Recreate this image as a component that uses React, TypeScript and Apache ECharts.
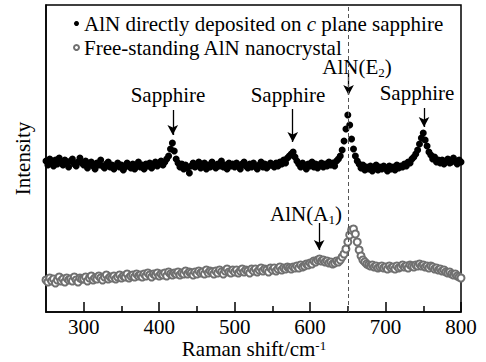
import React, { useEffect, useRef } from "react";
import * as echarts from "echarts";

// Raman shift sampling (cm^-1), 250 → 800 every 2.5
const shift: number[] = [];
for (let i = 0; i <= 220; i++) shift.push(250 + i * 2.5);

const upperName = "AlN directly deposited on c plane sapphire";
const lowerName = "Free-standing AlN nanocrystal";

// AlN on c-plane sapphire (arbitrary intensity)
const upperValues = [
  151, 147, 153, 149, 146, 152, 148, 154, 150, 147,
  152, 149, 145, 151, 153, 148, 146, 150, 154, 149,
  147, 151, 144, 148, 150, 146, 143, 149, 147, 152,
  146, 144, 148, 150, 145, 147, 143, 146, 149, 145,
  147, 142, 145, 149, 146, 144, 148, 143, 146, 150,
  145, 147, 143, 148, 146, 149, 144, 147, 150, 146,
  148, 151, 147, 150, 153, 156, 163, 169, 161, 153,
  149, 145, 148, 143, 147, 144, 139, 146, 149, 145,
  147, 150, 144, 146, 149, 143, 147, 145, 150, 146,
  144, 148, 146, 151, 145, 147, 143, 149, 146, 148,
  145, 149, 147, 143, 148, 150, 146, 144, 148, 145,
  149, 146, 143, 147, 150, 145, 148, 144, 146, 149,
  147, 145, 149, 146, 150, 148, 152, 149, 154, 156,
  158, 160, 155, 151, 148, 145, 149, 146, 143, 148,
  146, 150, 145, 148, 144, 147, 149, 145, 148, 146,
  150, 147, 149, 146, 151, 153, 156, 162, 171, 183,
  197, 187, 173, 163, 156, 151, 148, 144, 147, 142,
  145, 143, 146, 141, 144, 147, 142, 145, 143, 146,
  144, 141, 146, 143, 145, 142, 147, 144, 146, 145,
  148, 146, 150, 149, 153, 155, 158, 162, 168, 174,
  179, 172, 166, 160, 157, 153, 155, 150, 152, 149,
  152, 148, 151, 153, 149, 150, 154, 151, 148, 152, 150,
];

// Free-standing AlN nanocrystal
const lowerValues = [
  32, 30, 34, 31, 33, 29, 32, 35, 31, 33,
  30, 34, 32, 33, 31, 35, 32, 30, 34, 33,
  33, 35, 31, 34, 36, 32, 34, 33, 36, 34,
  32, 35, 37, 33, 35, 34, 36, 33, 35, 37,
  34, 36, 35, 38, 34, 36, 37, 35, 38, 36,
  37, 35, 38, 36, 39, 37, 35, 38, 37, 39,
  36, 38, 37, 39, 36, 40, 38, 37, 39, 38,
  40, 37, 39, 38, 41, 38, 40, 39, 37, 40,
  38, 41, 39, 40, 38, 42, 39, 41, 40, 38,
  41, 39, 42, 40, 38, 41, 43, 40, 39, 42,
  40, 42, 39, 41, 43, 40, 42, 41, 39, 43,
  41, 43, 40, 42, 44, 41, 43, 42, 40, 44,
  42, 44, 41, 43, 45, 42, 44, 43, 45, 44,
  43, 45, 44, 46, 44, 47, 45, 46, 48, 47,
  49, 48, 51, 50, 52, 53, 51, 52, 50, 51,
  49, 50, 48, 49, 51, 50, 52, 55, 58, 63,
  70, 77, 82, 83, 78, 70, 62, 56, 52, 50,
  48, 47, 46, 47, 45, 46, 44, 45, 46, 44,
  45, 43, 46, 44, 45, 43, 46, 44, 45, 47,
  45, 46, 44, 47, 46, 45, 47, 46, 48, 46,
  47, 45, 46, 44, 46, 45, 43, 44, 42, 43,
  41, 42, 40, 39, 40, 38, 37, 38, 36, 35, 34,
];

const majorTicks = [300, 400, 500, 600, 700, 800];
const minorTicks = [350, 450, 550, 650, 750];
const e2Position = 650;

// arrows: [x, yStart, yEnd]
const arrows = [
  [418, 202, 177],
  [577, 203, 170],
  [751, 204, 185],
  [651, 239, 217],
  [612, 89, 62],
];

const FONT = "Liberation Serif";
const FS = 21;

export default function App() {
  const ref = useRef<HTMLDivElement>(null);
  useEffect(() => {
    if (!ref.current) return;
    const chart = echarts.init(ref.current, null, { renderer: "svg" });
    const rich = {
      sub: { fontSize: 13, lineHeight: 13, fontFamily: FONT, color: "#000", padding: [11, 0, 0, 0] },
      sup: { fontSize: 13, lineHeight: 13, fontFamily: FONT, color: "#000", padding: [0, 0, 8, 0] },
      i: { fontSize: FS, lineHeight: 21, fontFamily: FONT, fontStyle: "italic", color: "#000" },
      n: { fontSize: FS, lineHeight: 21, fontFamily: FONT, color: "#000" },
    };
    const plain = (text: string, x: number, y: number) => ({
      type: "text",
      x,
      y,
      style: {
        text,
        fontSize: FS,
        fontFamily: FONT,
        fill: "#000",
        align: "center",
        verticalAlign: "middle",
      },
    });
    chart.setOption({
      animation: false,
      backgroundColor: "#fff",
      textStyle: { fontFamily: FONT },
      grid: {
        left: 46,
        right: 25,
        top: 5,
        bottom: 50,
        outerBoundsMode: "none",
        containLabel: false,
        show: true,
        borderColor: "#000",
        borderWidth: 1.5,
      },
      legend: {
        orient: "vertical",
        left: 68,
        top: 8,
        itemGap: 3,
        itemWidth: 5,
        itemHeight: 5,
        selectedMode: false,
        data: [upperName, lowerName],
        formatter: (name: string) =>
          name === upperName
            ? "{n|AlN directly deposited on }{i|c}{n| plane sapphire}"
            : "{n|" + name + "}",
        textStyle: { fontSize: FS, fontFamily: FONT, color: "#000", lineHeight: 21, rich },
      },
      xAxis: [
        {
          type: "value",
          min: 250,
          max: 800,
          position: "bottom",
          axisLine: { show: true, lineStyle: { color: "#000", width: 1.5 } },
          axisTick: {
            show: true,
            inside: true,
            length: 10,
            customValues: majorTicks,
            lineStyle: { color: "#000", width: 1.5 },
          },
          axisLabel: {
            customValues: majorTicks,
            fontSize: FS,
            fontFamily: FONT,
            lineHeight: 20,
            color: "#000",
            margin: 5,
          },
          splitLine: { show: false },
        },
        {
          type: "value",
          min: 250,
          max: 800,
          position: "bottom",
          axisLine: { show: false },
          axisTick: {
            show: true,
            inside: true,
            length: 6,
            customValues: minorTicks,
            lineStyle: { color: "#000", width: 1.5 },
          },
          axisLabel: { show: false },
          splitLine: { show: false },
        },
      ],
      yAxis: {
        type: "value",
        min: 0,
        max: 307,
        name: "Intensity",
        nameLocation: "middle",
        nameGap: 13,
        nameTextStyle: { fontSize: FS, fontFamily: FONT, color: "#000" },
        axisLine: { show: true, lineStyle: { color: "#000", width: 1.5 } },
        axisTick: { show: false },
        axisLabel: { show: false },
        splitLine: { show: false },
      },
      series: [
        {
          name: upperName,
          type: "scatter",
          symbol: "circle",
          symbolSize: 7,
          itemStyle: { color: "#000", opacity: 1 },
          data: shift.map((x, i) => [x, upperValues[i]]),
          markLine: {
            silent: true,
            symbol: ["none", "arrow"],
            symbolSize: [8, 10],
            label: { show: false },
            lineStyle: { color: "#000", width: 1.3, type: "solid" },
            data: arrows.map((a) => [
              { coord: [a[0], a[1]] },
              { coord: [a[0], a[2]] },
            ]),
          },
        },
        {
          name: lowerName,
          type: "scatter",
          symbol: "emptyCircle",
          symbolSize: 7,
          itemStyle: { color: "#707070", borderColor: "#707070", borderWidth: 1, opacity: 1 },
          data: shift.map((x, i) => [x, lowerValues[i]]),
          markLine: {
            silent: true,
            symbol: ["none", "none"],
            label: { show: false },
            lineStyle: { color: "#555", width: 1, type: [4, 3] },
            data: [{ xAxis: e2Position }],
          },
        },
      ],
      graphic: [
        plain("Sapphire", 168, 95),
        plain("Sapphire", 288, 95),
        plain("Sapphire", 417, 93),
        { type: "text", x: 357, y: 67, style: { text: "{n|AlN(E}{sub|2}{n|)}", rich, align: "center", verticalAlign: "middle" } },
        { type: "text", x: 306, y: 214, style: { text: "{n|AlN(A}{sub|1}{n|)}", rich, align: "center", verticalAlign: "middle" } },
        { type: "text", x: 254, y: 349, style: { text: "{n|Raman shift/cm}{sup|-1}", rich, align: "center", verticalAlign: "middle" } },
      ],
    });
    return () => chart.dispose();
  }, []);
  return <div ref={ref} style={{ width: 486, height: 362, position: "absolute", left: 0, top: 0 }} />;
}
